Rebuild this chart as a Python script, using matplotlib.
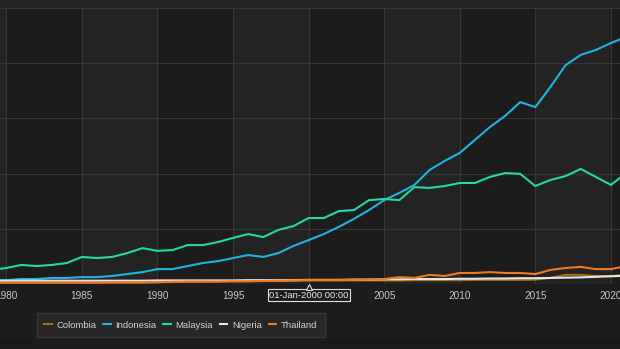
import numpy as np
import matplotlib.pyplot as plt
from matplotlib import font_manager
from matplotlib.patches import Rectangle

# data (arbitrary units)
years = list(range(1979, 2022))

colombia = [0.5, 0.5, 0.5, 0.5, 0.5, 0.5, 0.5, 0.5, 0.5, 0.5, 0.5, 0.6,
            0.7, 0.8, 0.8, 0.9, 1.0, 1.0, 1.1, 1.1, 1.2, 1.3, 1.3, 1.3,
            1.3, 1.3, 1.3, 1.3, 1.4, 1.4, 1.4, 1.4, 1.5, 1.5, 1.5, 1.5,
            1.6, 2.2, 3.3, 3.3, 2.9, 2.9, 3.3]
indonesia = [1.4, 1.4, 1.8, 1.8, 2.2, 2.2, 2.5, 2.5, 2.9, 3.6, 4.3, 5.4,
             5.4, 6.5, 7.6, 8.3, 9.4, 10.5, 9.8, 11.2, 13.8, 15.9, 18.1,
             20.7, 23.6, 26.8, 30.4, 33.0, 35.9, 41.3, 44.6, 47.5, 52.2,
             56.9, 60.9, 65.9, 64.1, 71.4, 79.3, 83.0, 84.8, 87.3, 89.5]
malaysia = [5.1, 5.8, 6.9, 6.5, 6.9, 7.6, 9.8, 9.4, 9.8, 11.2, 13.0, 12.0,
            12.3, 14.1, 14.1, 15.2, 16.7, 18.1, 17.0, 19.6, 21.0, 23.9,
            23.9, 26.4, 26.8, 30.4, 30.8, 30.4, 35.1, 34.8, 35.5, 36.6,
            36.6, 38.8, 40.2, 39.9, 35.5, 37.7, 39.1, 41.7, 38.8, 35.9, 40.2]
nigeria = [1.2, 1.2, 1.2, 1.2, 1.2, 1.2, 1.2, 1.2, 1.2, 1.2, 1.2, 1.3,
           1.3, 1.3, 1.3, 1.3, 1.3, 1.4, 1.4, 1.4, 1.4, 1.5, 1.5, 1.5,
           1.6, 1.6, 1.7, 1.7, 1.8, 1.8, 1.8, 1.9, 1.9, 2.0, 2.0, 2.1,
           2.1, 2.2, 2.3, 2.4, 2.6, 2.8, 3.0]
thailand = [0.5, 0.5, 0.5, 0.5, 0.5, 0.5, 0.5, 0.5, 0.6, 0.6, 0.6, 0.7,
            0.8, 0.9, 0.9, 0.9, 1.0, 1.0, 1.1, 1.2, 1.3, 1.4, 1.4, 1.4,
            1.5, 1.6, 1.8, 2.5, 2.2, 3.3, 2.9, 4.0, 4.0, 4.3, 4.0, 4.0,
            3.6, 5.1, 5.8, 6.2, 5.4, 5.4, 6.5]

series = [('Colombia', colombia, '#a0701c'),
          ('Indonesia', indonesia, '#1fb3e0'),
          ('Malaysia', malaysia, '#24d8a2'),
          ('Nigeria', nigeria, '#e6e6e6'),
          ('Thailand', thailand, '#f07820')]

# narrow font if there is one, else normal Liberation Sans
names = {f.name for f in font_manager.fontManager.ttflist}
if 'Liberation Sans Narrow' in names:
    fam = ['Liberation Sans Narrow', 'DejaVu Sans']
    fs = 8
else:
    fam = ['Liberation Sans', 'DejaVu Sans']
    fs = 6.8
plt.rcParams['font.family'] = fam

fig = plt.figure(figsize=(6.2, 3.49), dpi=100, facecolor='#1c1c1c')
# top strip and bottom strip
fig.patches.append(Rectangle((0, 1 - 8 / 349), 1, 8 / 349, transform=fig.transFigure,
                             facecolor='#232323', edgecolor='none', zorder=0))
fig.patches.append(Rectangle((0, 0), 1, 7 / 349, transform=fig.transFigure,
                             facecolor='#191919', edgecolor='none', zorder=0))

ax = fig.add_axes([0, 65 / 349, 1, 276 / 349])
ax.set_facecolor('#1c1c1c')
ax.set_xlim(1979.58, 2020.6)
ax.set_ylim(0, 100)

# alternating bands
for start in [1975, 1985, 1995, 2005, 2015]:
    ax.axvspan(start, start + 5, color='#232323', zorder=0, lw=0)

ax.set_xticks(range(1980, 2021, 5))
ax.set_yticks(range(0, 101, 20))
ax.grid(True, color='#363636', lw=0.8, zorder=1)
ax.tick_params(axis='x', colors='#c8c8c8', labelsize=fs + 0.4, length=0, pad=5)
ax.tick_params(axis='y', length=0, labelleft=False)
for s in ax.spines.values():
    s.set_visible(False)
ax.axhline(0, color='#3a3a3a', lw=0.8, zorder=1)

for name, vals, col in series:
    ax.plot(years, vals, color=col, lw=1.5, label=name, zorder=3)

# tooltip on the x axis
ax.annotate('01-Jan-2000 00:00', xy=(2000, 0), xycoords='data',
            xytext=(0, -8), textcoords='offset points', ha='center', va='center',
            color='#e8e8e8', fontsize=fs, zorder=10, annotation_clip=False,
            bbox=dict(boxstyle='square,pad=0.15', fc='#1c1c1c', ec='#e0e0e0', lw=0.8))
ax.plot([2000], [-1.0], marker='^', ms=5, color='#1c1c1c', mec='#e0e0e0', mew=0.8,
        clip_on=False, zorder=11)

leg = fig.legend(loc='lower left', bbox_to_anchor=(35 / 620, 10 / 349), ncol=5,
                 frameon=True, fontsize=fs, handlelength=0.8, handletextpad=0.5,
                 columnspacing=0.7, borderpad=0.5, labelcolor='#d0d0d0')
leg.get_frame().set_facecolor('#2a2a2a')
leg.get_frame().set_edgecolor('#3c3c3c')
leg.get_frame().set_boxstyle('square')

fig.savefig('out.png', dpi=100, facecolor=fig.get_facecolor())
